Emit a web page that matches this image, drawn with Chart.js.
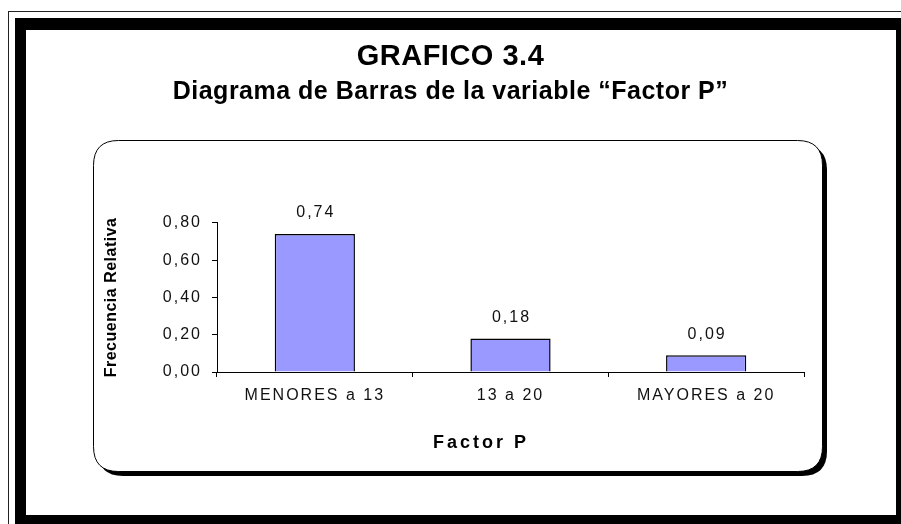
<!DOCTYPE html>
<html>
<head>
<meta charset="utf-8">
<title>Grafico 3.4</title>
<script src="https://cdn.jsdelivr.net/npm/chart.js@4.4.1/dist/chart.umd.min.js"></script>
<style>
    body { margin: 0; background: #fff; }
    canvas { display: block; }
</style>
</head>
<body>
<canvas id="grafico" width="901" height="524"></canvas>
<script>
// Datos del gráfico
const categorias = ['MENORES a 13', '13 a 20', 'MAYORES a 20'];
const frecuencias = [0.74, 0.18, 0.09];
const ticksY = [0, 0.2, 0.4, 0.6, 0.8];

const tituloPrincipal = 'GRAFICO 3.4';
const subtitulo = 'Diagrama de Barras de la variable \u201CFactor P\u201D';
const tituloX = 'Factor P';
const tituloY = 'Frecuencia Relativa';

const FUENTE = '"Liberation Sans", Arial, sans-serif';

// Formato con coma decimal
function formatear(v) {
    return v.toFixed(2).replace('.', ',');
}

// Rectángulo redondeado
function rectRedondeado(ctx, x, y, w, h, r) {
    ctx.beginPath();
    ctx.moveTo(x + r, y);
    ctx.lineTo(x + w - r, y);
    ctx.quadraticCurveTo(x + w, y, x + w, y + r);
    ctx.lineTo(x + w, y + h - r);
    ctx.quadraticCurveTo(x + w, y + h, x + w - r, y + h);
    ctx.lineTo(x + r, y + h);
    ctx.quadraticCurveTo(x, y + h, x, y + h - r);
    ctx.lineTo(x, y + r);
    ctx.quadraticCurveTo(x, y, x + r, y);
    ctx.closePath();
}

// Plugin para el marco, el panel y las etiquetas
const marcoPlugin = {
    id: 'marco',
    beforeUpdate(chart) {
        // espaciado de las etiquetas de los ejes (para medir)
        chart.ctx.letterSpacing = '2px';
    },
    beforeDraw(chart) {
        const ctx = chart.ctx;
        ctx.save();
        ctx.fillStyle = '#fff';
        ctx.fillRect(0, 0, chart.width, chart.height);

        // Línea fina exterior
        ctx.strokeStyle = '#222';
        ctx.lineWidth = 1;
        ctx.strokeRect(8.5, 11.5, 1000, 1000);

        // Marco grueso
        ctx.fillStyle = '#000';
        ctx.fillRect(15, 18, 900, 520);
        ctx.fillStyle = '#fff';
        ctx.fillRect(26, 30, 870, 485);

        // Panel redondeado con sombra
        ctx.fillStyle = '#000';
        rectRedondeado(ctx, 98, 145, 729, 331, 25);
        ctx.fill();
        ctx.fillStyle = '#fff';
        rectRedondeado(ctx, 93.5, 140.5, 729, 331, 25);
        ctx.fill();
        ctx.strokeStyle = '#000';
        ctx.lineWidth = 1;
        ctx.stroke();
        ctx.restore();

        // títulos (z <= 0)
        ctx.letterSpacing = '0.5px';
    },
    afterDatasetsDraw(chart) {
        const ctx = chart.ctx;
        const meta = chart.getDatasetMeta(0);
        ctx.save();
        ctx.letterSpacing = '2px';
        ctx.fillStyle = '#111';
        ctx.font = '16px ' + FUENTE;
        ctx.textAlign = 'center';
        ctx.textBaseline = 'middle';
        // Valores sobre las barras
        meta.data.forEach((barra, i) => {
            ctx.fillText(formatear(frecuencias[i]), barra.x + 1, barra.y - 21);
        });

        // Título del eje X
        ctx.letterSpacing = '3px';
        ctx.fillStyle = '#000';
        ctx.font = 'bold 18px ' + FUENTE;
        ctx.fillText(tituloX, 481, 443);
        ctx.restore();

        // etiquetas de los ejes (z = 1)
        ctx.letterSpacing = '2px';
    }
};

const ctx = document.getElementById('grafico').getContext('2d');
ctx.letterSpacing = '2px';

new Chart(ctx, {
    type: 'bar',
    data: {
        labels: categorias,
        datasets: [{
            data: frecuencias,
            backgroundColor: '#9999FF',
            borderColor: '#000',
            borderWidth: 1.5,
            barPercentage: 0.41,
            categoryPercentage: 1
        }]
    },
    options: {
        responsive: false,
        animation: false,
        events: [],
        layout: {
            padding: { top: 0, left: 0, right: 0, bottom: 70 }
        },
        plugins: {
            legend: { display: false },
            tooltip: { enabled: false },
            title: {
                display: true,
                text: tituloPrincipal,
                color: '#000',
                font: { family: FUENTE, size: 29, weight: 'bold' },
                padding: { top: 40, bottom: 2 }
            },
            subtitle: {
                display: true,
                text: subtitulo,
                color: '#000',
                font: { family: FUENTE, size: 25, weight: 'bold' },
                padding: { top: 0, bottom: 116 }
            }
        },
        scales: {
            x: {
                grid: {
                    display: true,
                    drawOnChartArea: false,
                    drawTicks: true,
                    tickLength: 5,
                    color: '#000'
                },
                border: { display: true, color: '#000', width: 1 },
                ticks: {
                    z: 1,
                    color: '#111',
                    padding: 9,
                    font: { family: FUENTE, size: 16 }
                },
                afterFit(scale) {
                    scale.height = 82;
                }
            },
            y: {
                min: 0,
                max: 0.8,
                grid: {
                    display: true,
                    drawOnChartArea: false,
                    drawTicks: true,
                    tickLength: 5,
                    color: '#000'
                },
                border: { display: true, color: '#000', width: 1 },
                ticks: {
                    z: 1,
                    color: '#111',
                    padding: 10,
                    font: { family: FUENTE, size: 16 },
                    callback: (v) => formatear(v)
                },
                title: {
                    display: true,
                    text: tituloY,
                    color: '#000',
                    font: { family: FUENTE, size: 16, weight: 'bold' },
                    padding: { top: 102, bottom: 0 }
                },
                afterBuildTicks(scale) {
                    scale.ticks = ticksY.map(v => ({ value: v }));
                },
                afterFit(scale) {
                    scale.width = 217;
                }
            },
            // eje vacío a la derecha para reservar el margen y centrar los títulos
            margen: {
                position: 'right',
                display: true,
                grid: { display: false },
                border: { display: false },
                ticks: { display: false },
                afterFit(scale) {
                    scale.width = 97;
                }
            }
        }
    },
    plugins: [marcoPlugin]
});
</script>
</body>
</html>
